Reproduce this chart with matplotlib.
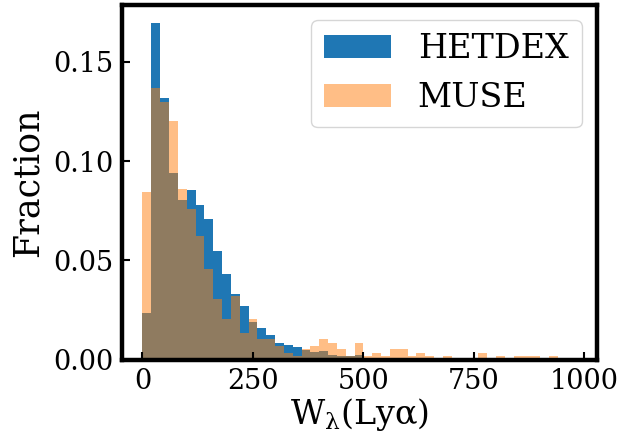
import matplotlib
matplotlib.use("Agg")
import matplotlib.pyplot as plt
import numpy as np

# fraction per 20-wide bin in W_lambda(Lya), 0..1000
bin_edges = np.arange(0, 1001, 20)
hetdex_frac = [0.0234, 0.1696, 0.1320, 0.0942, 0.0806, 0.0856, 0.0781, 0.0710, 0.0549, 0.0433,
               0.0332, 0.0271, 0.0191, 0.0161, 0.0125, 0.0084, 0.0074, 0.0064, 0.0050, 0.0039,
               0.0044, 0.0023, 0.0018, 0.0017, 0.0023, 0, 0, 0, 0, 0,
               0, 0, 0, 0, 0, 0, 0, 0, 0, 0,
               0, 0, 0, 0, 0, 0, 0, 0, 0, 0]
muse_frac = [0.0846, 0.1370, 0.1300, 0.1200, 0.0861, 0.0761, 0.0624, 0.0458, 0.0307, 0.0206,
             0.0322, 0.0135, 0.0206, 0.0105, 0.0105, 0.0069, 0.0034, 0.0018, 0.0054, 0.0069,
             0.0104, 0.0084, 0.0054, 0.0017, 0.0084, 0.0018, 0.0034, 0.0018, 0.0054, 0.0054,
             0.0018, 0.0034, 0.0018, 0, 0.0018, 0, 0, 0, 0.0034, 0,
             0.0018, 0, 0.0018, 0.0018, 0.0018, 0, 0.0018, 0, 0, 0]
x_ticks = [0, 250, 500, 750, 1000]
y_ticks = [0.00, 0.05, 0.10, 0.15]

plt.rcParams['font.family'] = 'DejaVu Serif'
plt.rcParams['mathtext.fontset'] = 'dejavuserif'

bin_centers = 0.5 * (bin_edges[:-1] + bin_edges[1:])

fig = plt.figure(figsize=(6.21, 4.38), dpi=100)
ax = fig.add_axes([0.196, 0.179, 0.765, 0.8096])

ax.hist(bin_centers, bins=bin_edges, weights=hetdex_frac, color='tab:blue', label='HETDEX')
ax.hist(bin_centers, bins=bin_edges, weights=muse_frac, color='tab:orange', alpha=0.5, label='MUSE')

ax.set_xlim(-47, 1028)
ax.set_ylim(0, 0.1787)
ax.set_xticks(x_ticks)
ax.set_yticks(y_ticks)
ax.tick_params(direction='in', length=6, width=1.5, labelsize=19.5, pad=6)

for sp in ax.spines.values():
    sp.set_linewidth(3.2)

ax.set_xlabel(r'W$_\mathrm{\lambda}$(Ly$\mathrm{\alpha}$)', fontsize=24, labelpad=1)
ax.set_ylabel('Fraction', fontsize=25, labelpad=6)

ax.legend(loc='upper right', fontsize=24, borderaxespad=0.45)

fig.savefig('out.png', dpi=100)
